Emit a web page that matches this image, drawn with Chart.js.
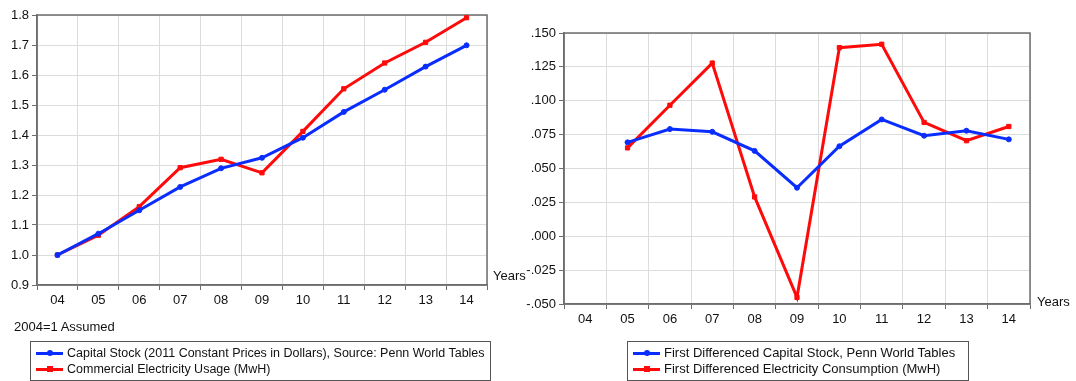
<!DOCTYPE html>
<html>
<head>
<meta charset="utf-8">
<script src="https://cdn.jsdelivr.net/npm/chart.js@4.4.1/dist/chart.umd.min.js"></script>
<style>
  body { margin: 0; background: #fff; font-family: 'Liberation Sans', Arial, sans-serif; color: #111; }
  #wrap { position: relative; width: 1076px; height: 381px; overflow: hidden; }
  canvas { position: absolute; }
  .txt { position: absolute; font-size: 13px; line-height: 16px; white-space: nowrap; }
  .legend { position: absolute; border: 1px solid #555; font-size: 13px; line-height: 16px; padding: 3px 0; box-sizing: border-box; }
  .legend div { position: relative; padding-left: 36px; white-space: nowrap; }
  .legend span.ln { position: absolute; left: 5px; top: 7px; width: 27px; height: 3px; }
  .legend span.mk { position: absolute; left: 16px; top: 5px; width: 6px; height: 6px; }
</style>
</head>
<body>
<div id="wrap">
  <canvas id="levels" width="540" height="320" style="left:0;top:0"></canvas>
  <canvas id="diffs" width="520" height="340" style="left:520px;top:0"></canvas>
  <div class="txt" style="left:493px;top:268px">Years</div>
  <div class="txt" style="left:1037px;top:294px">Years</div>
  <div class="txt" style="left:14px;top:319px">2004=1 Assumed</div>
  <div class="legend" style="left:30px;top:341px;width:461px;height:40px;font-size:12.5px">
    <div><span class="ln" style="background:#0a2dff"></span><span class="mk" style="background:#0a2dff;border-radius:3px"></span>Capital Stock (2011 Constant Prices in Dollars), Source: Penn World Tables</div>
    <div><span class="ln" style="background:#ff0a0a"></span><span class="mk" style="background:#ff0a0a"></span>Commercial Electricity Usage (MwH)</div>
  </div>
  <div class="legend" style="left:627px;top:341px;width:342px;height:40px">
    <div><span class="ln" style="background:#0a2dff"></span><span class="mk" style="background:#0a2dff;border-radius:3px"></span>First Differenced Capital Stock, Penn World Tables</div>
    <div><span class="ln" style="background:#ff0a0a"></span><span class="mk" style="background:#ff0a0a"></span>First Differenced Electricity Consumption (MwH)</div>
  </div>
</div>
<script>
const years = ['04', '05', '06', '07', '08', '09', '10', '11', '12', '13', '14'];
const capitalIndex = [1.000, 1.071, 1.149, 1.227, 1.289, 1.324, 1.391, 1.477, 1.551, 1.628, 1.699];
const electricityIndex = [1.000, 1.066, 1.161, 1.291, 1.319, 1.274, 1.412, 1.554, 1.640, 1.709, 1.791];
const capitalDiff = [null, 0.0693, 0.0791, 0.0771, 0.0630, 0.0358, 0.0664, 0.0862, 0.0742, 0.0779, 0.0715];
const electricityDiff = [null, 0.0652, 0.0967, 0.1278, 0.0290, -0.0451, 0.1392, 0.1417, 0.0840, 0.0705, 0.0810];

const BLUE = '#0a2dff';
const RED = '#ff0a0a';
const AXIS = '#6e6e6e';
const GRID = '#dcdcdc';
const font = { family: "'Liberation Sans', Arial, sans-serif", size: 13 };

// draws the top and right sides of the plot frame
const frame = {
    id: 'frame',
    beforeDatasetsDraw(chart) {
        const { ctx, chartArea: a } = chart;
        ctx.save();
        ctx.strokeStyle = AXIS;
        ctx.lineWidth = 1.5;
        ctx.strokeRect(a.left, a.top, a.right - a.left, a.bottom - a.top);
        ctx.restore();
    }
};

function lineSet(data, color, style, radius) {
    return {
        data: data,
        borderColor: color,
        backgroundColor: color,
        borderWidth: 3,
        pointStyle: style,
        pointRadius: radius,
        pointBorderWidth: 1,
        tension: 0,
        spanGaps: false
    };
}

function makeChart(id, sets, yOpts, yWidth, xHeight, padding) {
    return new Chart(document.getElementById(id), {
        type: 'line',
        data: { labels: years, datasets: sets },
        options: {
            responsive: false,
            animation: false,
            devicePixelRatio: 1,
            layout: { padding: padding },
            plugins: { legend: { display: false }, tooltip: { enabled: false } },
            scales: {
                x: {
                    type: 'category',
                    offset: true,
                    grid: { offset: true, color: GRID, tickColor: AXIS, tickLength: 5, lineWidth: 1 },
                    border: { color: AXIS, width: 1.5 },
                    ticks: { font: font, color: '#111', padding: 3, maxRotation: 0 },
                    afterFit: s => { s.height = xHeight; }
                },
                y: Object.assign({
                    grid: { color: GRID, tickColor: AXIS, tickLength: 5, lineWidth: 1 },
                    border: { color: AXIS, width: 1.5 },
                    afterFit: s => { s.width = yWidth; }
                }, yOpts)
            }
        },
        plugins: [frame]
    });
}

makeChart('levels', [
    lineSet(capitalIndex, BLUE, 'circle', 2.5),
    lineSet(electricityIndex, RED, 'rect', 3)
], {
    min: 0.9, max: 1.8,
    ticks: { stepSize: 0.1, font: font, color: '#111', padding: 3, callback: v => v.toFixed(1) }
}, 37, 35, { left: 0, top: 15, right: 53, bottom: 0 });

makeChart('diffs', [
    lineSet(capitalDiff, BLUE, 'circle', 2.5),
    lineSet(electricityDiff, RED, 'rect', 3)
], {
    min: -0.05, max: 0.15,
    ticks: { stepSize: 0.025, font: font, color: '#111', padding: 3,
             callback: v => v.toFixed(3).replace('0.', '.') }
}, 44, 36, { left: 0, top: 33, right: 10, bottom: 0 });
</script>
</body>
</html>
